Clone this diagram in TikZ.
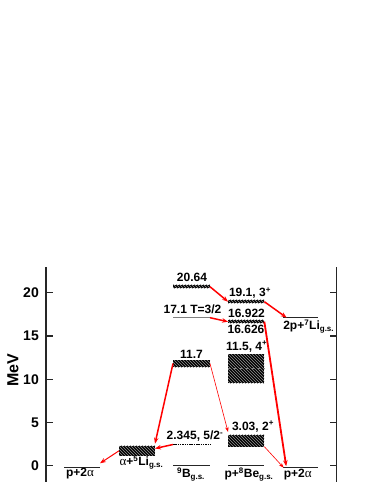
\documentclass[tikz,border=0pt]{standalone}
\usepackage{fontspec}
\setmainfont{Liberation Sans}
\newfontfamily\grk{Liberation Serif}
\usetikzlibrary{patterns,arrows.meta}
\newcommand{\gsub}{\textsubscript{g.s.}}
\newcommand{\alp}{{\grk\mdseries\fontsize{13}{14}\selectfont α}}
\begin{document}
\begin{tikzpicture}[x=1pt,y=-1pt,
  lab/.style={font=\fontsize{12}{14}\selectfont\bfseries, inner sep=0pt},
  tl/.style={font=\fontsize{14}{16}\selectfont\bfseries, inner sep=0pt, anchor=east},
  axisline/.style={line width=1.3pt, black!85},
  lvl/.style={rectangle, inner sep=0pt, outer sep=0pt, minimum height=1.2pt, fill=black!85},
  hatchbox/.style={rectangle, inner sep=0pt, outer sep=0pt, fill=black,
    postaction={pattern=north west lines, pattern color=black!42}},
  arr/.style={red, line width=1.5pt, -{Stealth[length=6pt,width=4.5pt]}},
  tarr/.style={red, line width=0.6pt, -{Stealth[length=5pt,width=3.5pt]}}
]
\useasboundingbox (0,0) rectangle (383,495);

% axes
\draw[axisline] (46,267) -- (46,482);
\draw[axisline] (336.7,267) -- (336.7,482);
\foreach \yy/\vv in {465.7/0,422.5/5,379.2/10,336/15,292.7/20}{
  \draw[axisline] (46,\yy) -- (53,\yy);
  \draw[axisline] (330,\yy) -- (336.7,\yy);
  \node[tl] at (39,\yy) {\vv};
}
\node[rotate=90, font=\fontsize{16}{18}\selectfont\bfseries, inner sep=0pt] (mev) at (13,370) {MeV};

% column 1: p+2alpha
\node[lvl, minimum width=36pt] (P2a1) at (82,467.3) {};
\node[lab] (tP2a1) at (80,473.5) {p+2\alp};

% column 2: alpha+5Li
\node[hatchbox, minimum width=36pt, minimum height=10.3pt] (Li5) at (137,450.8) {};
\node[lab] (tLi5) at (141.5,462.5) {\alp+\textsuperscript{5}Li\gsub};

% column 3: 9B
\node[hatchbox, minimum width=37pt, minimum height=3.5pt] (B2064) at (191.5,286.7) {};
\node[lab] (tB2064) at (192,277) {20.64};
\node[lvl, fill=gray, minimum width=37pt, minimum height=1.3pt] (L171) at (191.5,317.7) {};
\node[lab] (tL171) at (192.5,309.5) {17.1 T=3/2};
\node[hatchbox, minimum width=37pt, minimum height=7pt] (B117) at (191.5,363.5) {};
\node[lab] (tB117) at (191.5,354.3) {11.7};
\node[inner sep=0pt, outer sep=0pt, minimum width=37pt, minimum height=0pt] (L2345) at (191.5,444.5) {};
\draw[black, line width=0.7pt, dash pattern=on 1.5pt off 0.8pt] (L2345.west) -- (L2345.east);
\node[lab] (tL2345) at (195,436.5) {2.345, 5/2\textsuperscript{-}};
\node[lvl, minimum width=37pt] (B9gs) at (191.5,465.7) {};
\node[lab] (tB9gs) at (191,474.5) {\textsuperscript{9}B\gsub};

% column 4: p+8Be
\node[hatchbox, minimum width=36.3pt, minimum height=3.5pt] (B191) at (246.2,301.7) {};
\node[lab] (tB191) at (250,293) {19.1, 3\textsuperscript{+}};
\node[hatchbox, minimum width=36.3pt, minimum height=3.5pt] (B16922) at (246.2,321.7) {};
\node[lab] (tB16922) at (246.5,313) {16.922};
\node[lab] (tB16626) at (246,329.5) {16.626};
\node[hatchbox, minimum width=36.3pt, minimum height=29.3pt] (B115) at (246.2,368.7) {};
\draw[gray, line width=0.6pt, dashed] (B115.west) -- (B115.east);
\node[lab] (tB115) at (246.7,346.7) {11.5, 4\textsuperscript{+}};
\node[hatchbox, minimum width=36.3pt, minimum height=11.7pt] (B303) at (246.2,440.8) {};
\node[lab] (tB303) at (253,426.7) {3.03, 2\textsuperscript{+}};
\node[lvl, minimum width=36.3pt] (Be8gs) at (246.2,465.7) {};
\node[lab] (tBe8gs) at (249,474.5) {p+\textsuperscript{8}Be\gsub};

% column 5
\node[lvl, minimum width=35.6pt] (L2p) at (300.5,317.7) {};
\node[lab] (tL2p) at (308.7,326.5) {2p+\textsuperscript{7}Li\gsub};
\node[lvl, minimum width=35.6pt] (P2a5) at (300.5,467.7) {};
\node[lab] (tP2a5) at (297.7,475) {p+2\alp};

% decay arrows
\draw[arr] (B2064.east) -- (B191.west);
\draw[arr] (B191.east) -- ([xshift=4pt]L2p.west);
\draw[arr] (L171.east) -- (B16922.west);
\draw[arr, line width=1.8pt] (B16922.east) -- ([xshift=3.5pt,yshift=1.5pt]P2a5.west);
\draw[arr] (B117.west) -- ([yshift=2pt]Li5.north east);
\draw[tarr] (B117.east) -- ([yshift=3pt]B303.north west);
\draw[arr] (L2345.west) -- ([yshift=2.3pt]Li5.east);
\draw[tarr] (B303.south east) -- ([xshift=1pt]P2a5.west);
\draw[arr, line width=1pt] (Li5.west) -- ([yshift=4pt]P2a1.east);
\end{tikzpicture}
\end{document}
